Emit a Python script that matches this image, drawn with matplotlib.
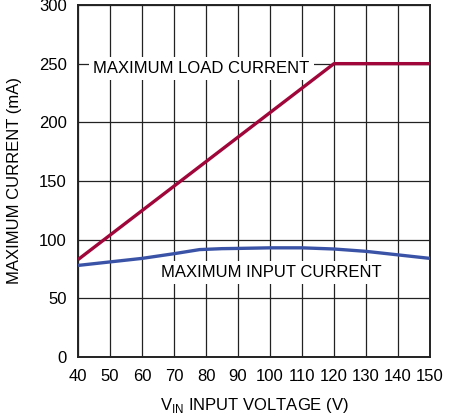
import matplotlib
matplotlib.use("Agg")
import matplotlib.pyplot as plt

# datos
vin_load = [40, 120, 150]
load_ma = [83, 250, 250]

vin_input = [40, 50, 60, 70, 78, 85, 90, 100, 110, 120, 130, 140, 150]
input_ma = [78, 81, 84, 88, 91.5, 92.3, 92.5, 93, 93, 92, 90, 87, 84]

xticks = list(range(40, 151, 10))
yticks = list(range(0, 301, 50))

plt.rcParams["font.family"] = ["Liberation Sans", "DejaVu Sans"]
FS = 12

fig = plt.figure(figsize=(4.54, 4.16), dpi=100)
ax = fig.add_axes([0.172, 0.142, 0.775, 0.846])

ax.plot(vin_load, load_ma, color="#a0063a", lw=2.4, solid_capstyle="butt", zorder=3)
ax.plot(vin_input, input_ma, color="#3b53a6", lw=2.4, solid_capstyle="butt", zorder=3)

ax.set_xlim(40, 150)
ax.set_ylim(0, 300)
ax.set_xticks(xticks)
ax.set_yticks(yticks)
ax.grid(True, color="#222222", lw=0.9, zorder=1)
ax.set_axisbelow(True)
for s in ax.spines.values():
    s.set_linewidth(1.4)
    s.set_color("#222222")
ax.tick_params(axis="x", length=0, labelsize=FS, pad=9)
ax.tick_params(axis="y", length=0, labelsize=FS, pad=8)

box = dict(facecolor="white", edgecolor="none", pad=3)
ax.text(78.5, 246, "MAXIMUM LOAD CURRENT", fontsize=FS, ha="center", va="center",
        bbox=box, zorder=2)
ax.text(100.5, 72, "MAXIMUM INPUT CURRENT", fontsize=FS, ha="center", va="center",
        bbox=box, zorder=2)

ax.set_xlabel("V$_{\\mathregular{IN}}$ INPUT VOLTAGE (V)", fontsize=FS, labelpad=8)
ax.set_ylabel("MAXIMUM CURRENT (mA)", fontsize=FS, labelpad=12)

fig.savefig("out.png", dpi=100)
